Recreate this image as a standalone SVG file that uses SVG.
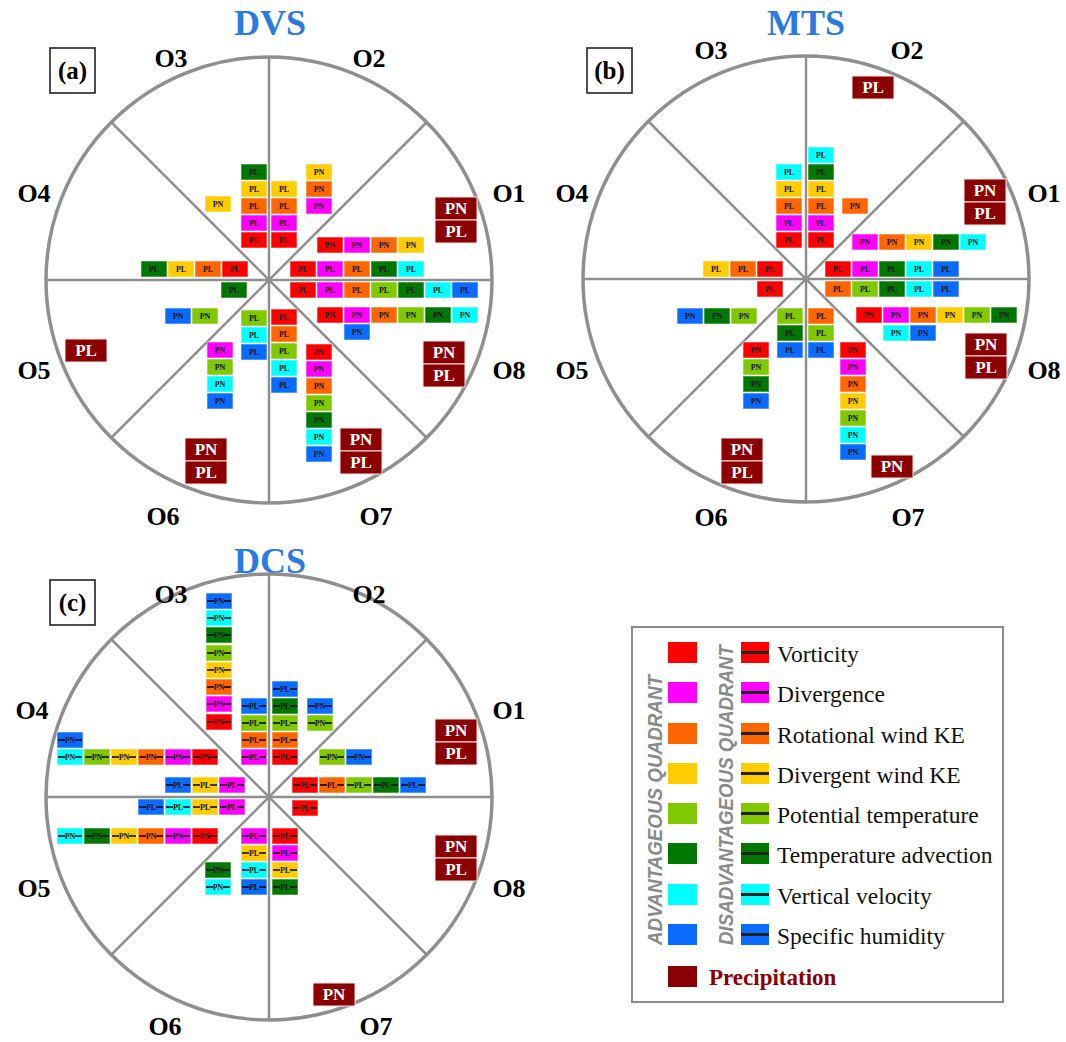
<svg xmlns="http://www.w3.org/2000/svg" width="1066" height="1042" viewBox="0 0 1066 1042">
<style>
.r{fill:#ff0000}.m{fill:#ff00ff}.o{fill:#ff6600}.y{fill:#ffcc00}.g{fill:#80c800}.d{fill:#007800}.c{fill:#00ffff}.b{fill:#0a6cff}.p{fill:#8b0000}
.cells rect{stroke:#ffffff;stroke-opacity:.55;stroke-width:1}
.cells text{font:bold 8px "Liberation Serif",serif;fill:#111;text-anchor:middle}
.prec rect{fill:#8b0000;stroke:#f4e6e6;stroke-width:1}
.prec text{font:bold 17px "Liberation Serif",serif;fill:#fff;text-anchor:middle}
.s{stroke:#000;stroke-width:1.6;fill:none}
.circ{fill:none;stroke:#8f8f8f;stroke-width:3.5}
.ln{stroke:#8f8f8f;stroke-width:2.5}
.lab{font:bold 26px "Liberation Serif",serif;fill:#000;text-anchor:middle}
.ttl{font:bold 36px "Liberation Serif",serif;fill:#2a7ae2;text-anchor:middle}
.tag{font:bold 25px "Liberation Serif",serif;fill:#000;text-anchor:middle}
.tagbox{fill:#fff;stroke:#222;stroke-width:1.6}
.leg{font:23.5px "Liberation Serif",serif;fill:#111}
.vt{font:italic bold 20px "Liberation Sans",sans-serif;fill:#8a8a8a}
</style>

<!-- ===================== PANEL A : DVS ===================== -->
<g id="panel-a-frame">
<text class="ttl" x="270" y="35">DVS</text>
<circle class="circ" cx="269" cy="280" r="223"/>
<line class="ln" x1="46" y1="280" x2="492" y2="280"/>
<line class="ln" x1="269" y1="57" x2="269" y2="503"/>
<line class="ln" x1="111" y1="122" x2="427" y2="438"/>
<line class="ln" x1="111" y1="438" x2="427" y2="122"/>
<rect class="tagbox" x="50" y="48" width="45" height="45"/>
<text class="tag" x="72.5" y="79">(a)</text>
<text class="lab" x="171" y="67">O3</text><text class="lab" x="369" y="67">O2</text>
<text class="lab" x="34" y="202">O4</text><text class="lab" x="509" y="202">O1</text>
<text class="lab" x="34" y="379">O5</text><text class="lab" x="509" y="379">O8</text>
<text class="lab" x="163" y="525">O6</text><text class="lab" x="376" y="525">O7</text>
</g>

<g id="a-O2O3" class="cells">
<rect class="d" x="241" y="164" width="26" height="16"/><text x="254" y="175">PL</text>
<rect class="y" x="241" y="181" width="26" height="16"/><text x="254" y="192">PL</text>
<rect class="o" x="241" y="198" width="26" height="16"/><text x="254" y="209">PL</text>
<rect class="m" x="241" y="215" width="26" height="16"/><text x="254" y="226">PL</text>
<rect class="r" x="241" y="232" width="26" height="16"/><text x="254" y="243">PL</text>
<rect class="y" x="271" y="181" width="26" height="16"/><text x="284" y="192">PL</text>
<rect class="o" x="271" y="198" width="26" height="16"/><text x="284" y="209">PL</text>
<rect class="m" x="271" y="215" width="26" height="16"/><text x="284" y="226">PL</text>
<rect class="r" x="271" y="232" width="26" height="16"/><text x="284" y="243">PL</text>
<rect class="y" x="306" y="164" width="26" height="16"/><text x="319" y="175">PN</text>
<rect class="o" x="306" y="181" width="26" height="16"/><text x="319" y="192">PN</text>
<rect class="m" x="306" y="198" width="26" height="16"/><text x="319" y="209">PN</text>
<rect class="y" x="205" y="196" width="26" height="16"/><text x="218" y="207">PN</text>
</g>
<g id="a-O4" class="cells">
<rect class="d" x="141" y="261" width="26" height="16"/><text x="154" y="272">PL</text>
<rect class="y" x="168" y="261" width="26" height="16"/><text x="181" y="272">PL</text>
<rect class="o" x="195" y="261" width="26" height="16"/><text x="208" y="272">PL</text>
<rect class="r" x="222" y="261" width="26" height="16"/><text x="235" y="272">PL</text>
</g>
<g id="a-O5" class="cells">
<rect class="d" x="221" y="282" width="26" height="16"/><text x="234" y="293">PL</text>
<rect class="b" x="165" y="308" width="26" height="16"/><text x="178" y="319">PN</text>
<rect class="g" x="192" y="308" width="26" height="16"/><text x="205" y="319">PN</text>
</g>
<g id="a-O1" class="cells">
<rect class="r" x="317" y="237" width="26" height="16"/><text x="330" y="248">PN</text>
<rect class="m" x="344" y="237" width="26" height="16"/><text x="357" y="248">PN</text>
<rect class="o" x="371" y="237" width="26" height="16"/><text x="384" y="248">PN</text>
<rect class="y" x="398" y="237" width="26" height="16"/><text x="411" y="248">PN</text>
<rect class="r" x="290" y="261" width="26" height="16"/><text x="303" y="272">PL</text>
<rect class="m" x="317" y="261" width="26" height="16"/><text x="330" y="272">PL</text>
<rect class="o" x="344" y="261" width="26" height="16"/><text x="357" y="272">PL</text>
<rect class="d" x="371" y="261" width="26" height="16"/><text x="384" y="272">PL</text>
<rect class="c" x="398" y="261" width="26" height="16"/><text x="411" y="272">PL</text>
</g>
<g id="a-O8" class="cells">
<rect class="r" x="290" y="282" width="26" height="16"/><text x="303" y="293">PL</text>
<rect class="m" x="317" y="282" width="26" height="16"/><text x="330" y="293">PL</text>
<rect class="o" x="344" y="282" width="26" height="16"/><text x="357" y="293">PL</text>
<rect class="g" x="371" y="282" width="26" height="16"/><text x="384" y="293">PL</text>
<rect class="d" x="398" y="282" width="26" height="16"/><text x="411" y="293">PL</text>
<rect class="c" x="425" y="282" width="26" height="16"/><text x="438" y="293">PL</text>
<rect class="b" x="452" y="282" width="26" height="16"/><text x="465" y="293">PL</text>
<rect class="r" x="317" y="307" width="26" height="16"/><text x="330" y="318">PN</text>
<rect class="m" x="344" y="307" width="26" height="16"/><text x="357" y="318">PN</text>
<rect class="o" x="371" y="307" width="26" height="16"/><text x="384" y="318">PN</text>
<rect class="g" x="398" y="307" width="26" height="16"/><text x="411" y="318">PN</text>
<rect class="d" x="425" y="307" width="26" height="16"/><text x="438" y="318">PN</text>
<rect class="c" x="452" y="307" width="26" height="16"/><text x="465" y="318">PN</text>
<rect class="b" x="344" y="324" width="26" height="16"/><text x="357" y="335">PN</text>
</g>
<g id="a-O6" class="cells">
<rect class="g" x="241" y="310" width="26" height="16"/><text x="254" y="321">PL</text>
<rect class="c" x="241" y="327" width="26" height="16"/><text x="254" y="338">PL</text>
<rect class="b" x="241" y="344" width="26" height="16"/><text x="254" y="355">PL</text>
<rect class="m" x="207" y="342" width="26" height="16"/><text x="220" y="353">PN</text>
<rect class="g" x="207" y="359" width="26" height="16"/><text x="220" y="370">PN</text>
<rect class="c" x="207" y="376" width="26" height="16"/><text x="220" y="387">PN</text>
<rect class="b" x="207" y="393" width="26" height="16"/><text x="220" y="404">PN</text>
</g>
<g id="a-O7" class="cells">
<rect class="r" x="271" y="309" width="26" height="16"/><text x="284" y="320">PL</text>
<rect class="o" x="271" y="326" width="26" height="16"/><text x="284" y="337">PL</text>
<rect class="g" x="271" y="343" width="26" height="16"/><text x="284" y="354">PL</text>
<rect class="c" x="271" y="360" width="26" height="16"/><text x="284" y="371">PL</text>
<rect class="b" x="271" y="377" width="26" height="16"/><text x="284" y="388">PL</text>
<rect class="r" x="306" y="344" width="26" height="16"/><text x="319" y="355">PN</text>
<rect class="m" x="306" y="361" width="26" height="16"/><text x="319" y="372">PN</text>
<rect class="o" x="306" y="378" width="26" height="16"/><text x="319" y="389">PN</text>
<rect class="g" x="306" y="395" width="26" height="16"/><text x="319" y="406">PN</text>
<rect class="d" x="306" y="412" width="26" height="16"/><text x="319" y="423">PN</text>
<rect class="c" x="306" y="429" width="26" height="16"/><text x="319" y="440">PN</text>
<rect class="b" x="306" y="446" width="26" height="16"/><text x="319" y="457">PN</text>
</g>
<g id="a-precip" class="prec">
<rect x="435" y="197" width="42" height="23"/><text x="456" y="214">PN</text>
<rect x="435" y="220" width="42" height="23"/><text x="456" y="237">PL</text>
<rect x="423" y="341" width="42" height="23"/><text x="444" y="358">PN</text>
<rect x="423" y="364" width="42" height="23"/><text x="444" y="381">PL</text>
<rect x="340" y="428" width="42" height="23"/><text x="361" y="445">PN</text>
<rect x="340" y="451" width="42" height="23"/><text x="361" y="468">PL</text>
<rect x="185" y="438" width="42" height="23"/><text x="206" y="455">PN</text>
<rect x="185" y="461" width="42" height="23"/><text x="206" y="478">PL</text>
<rect x="65" y="339" width="42" height="23"/><text x="86" y="356">PL</text>
</g>

<!-- ===================== PANEL B : MTS ===================== -->
<g id="panel-b-frame">
<text class="ttl" x="806" y="35">MTS</text>
<circle class="circ" cx="806" cy="279" r="223"/>
<line class="ln" x1="583" y1="279" x2="1029" y2="279"/>
<line class="ln" x1="806" y1="56" x2="806" y2="502"/>
<line class="ln" x1="648" y1="121" x2="964" y2="437"/>
<line class="ln" x1="648" y1="437" x2="964" y2="121"/>
<rect class="tagbox" x="587" y="48" width="45" height="45"/>
<text class="tag" x="609.5" y="79">(b)</text>
<text class="lab" x="711" y="59">O3</text><text class="lab" x="907" y="59">O2</text>
<text class="lab" x="572" y="202">O4</text><text class="lab" x="1044" y="202">O1</text>
<text class="lab" x="572" y="379">O5</text><text class="lab" x="1044" y="379">O8</text>
<text class="lab" x="711" y="526">O6</text><text class="lab" x="908" y="526">O7</text>
</g>

<g id="b-O2O3" class="cells">
<rect class="c" x="776" y="164" width="26" height="16"/><text x="789" y="175">PL</text>
<rect class="y" x="776" y="181" width="26" height="16"/><text x="789" y="192">PL</text>
<rect class="o" x="776" y="198" width="26" height="16"/><text x="789" y="209">PL</text>
<rect class="m" x="776" y="215" width="26" height="16"/><text x="789" y="226">PL</text>
<rect class="r" x="776" y="232" width="26" height="16"/><text x="789" y="243">PL</text>
<rect class="c" x="808" y="147" width="26" height="16"/><text x="821" y="158">PL</text>
<rect class="d" x="808" y="164" width="26" height="16"/><text x="821" y="175">PL</text>
<rect class="y" x="808" y="181" width="26" height="16"/><text x="821" y="192">PL</text>
<rect class="o" x="808" y="198" width="26" height="16"/><text x="821" y="209">PL</text>
<rect class="m" x="808" y="215" width="26" height="16"/><text x="821" y="226">PL</text>
<rect class="r" x="808" y="232" width="26" height="16"/><text x="821" y="243">PL</text>
<rect class="o" x="842" y="198" width="26" height="16"/><text x="855" y="209">PN</text>
</g>
<g id="b-O4" class="cells">
<rect class="y" x="703" y="261" width="26" height="16"/><text x="716" y="272">PL</text>
<rect class="o" x="730" y="261" width="26" height="16"/><text x="743" y="272">PL</text>
<rect class="r" x="757" y="261" width="26" height="16"/><text x="770" y="272">PL</text>
</g>
<g id="b-O5" class="cells">
<rect class="r" x="757" y="281" width="26" height="16"/><text x="770" y="292">PL</text>
<rect class="b" x="677" y="308" width="26" height="16"/><text x="690" y="319">PN</text>
<rect class="d" x="704" y="308" width="26" height="16"/><text x="717" y="319">PN</text>
<rect class="g" x="731" y="308" width="26" height="16"/><text x="744" y="319">PN</text>
</g>
<g id="b-O1" class="cells">
<rect class="m" x="852" y="234" width="26" height="16"/><text x="865" y="245">PN</text>
<rect class="o" x="879" y="234" width="26" height="16"/><text x="892" y="245">PN</text>
<rect class="y" x="906" y="234" width="26" height="16"/><text x="919" y="245">PN</text>
<rect class="d" x="933" y="234" width="26" height="16"/><text x="946" y="245">PN</text>
<rect class="c" x="960" y="234" width="26" height="16"/><text x="973" y="245">PN</text>
<rect class="r" x="825" y="261" width="26" height="16"/><text x="838" y="272">PL</text>
<rect class="m" x="852" y="261" width="26" height="16"/><text x="865" y="272">PL</text>
<rect class="d" x="879" y="261" width="26" height="16"/><text x="892" y="272">PL</text>
<rect class="c" x="906" y="261" width="26" height="16"/><text x="919" y="272">PL</text>
<rect class="b" x="933" y="261" width="26" height="16"/><text x="946" y="272">PL</text>
</g>
<g id="b-O8" class="cells">
<rect class="o" x="825" y="281" width="26" height="16"/><text x="838" y="292">PL</text>
<rect class="g" x="852" y="281" width="26" height="16"/><text x="865" y="292">PL</text>
<rect class="d" x="879" y="281" width="26" height="16"/><text x="892" y="292">PL</text>
<rect class="c" x="906" y="281" width="26" height="16"/><text x="919" y="292">PL</text>
<rect class="b" x="933" y="281" width="26" height="16"/><text x="946" y="292">PL</text>
<rect class="r" x="856" y="307" width="26" height="16"/><text x="869" y="318">PN</text>
<rect class="m" x="883" y="307" width="26" height="16"/><text x="896" y="318">PN</text>
<rect class="o" x="910" y="307" width="26" height="16"/><text x="923" y="318">PN</text>
<rect class="y" x="937" y="307" width="26" height="16"/><text x="950" y="318">PN</text>
<rect class="g" x="964" y="307" width="26" height="16"/><text x="977" y="318">PN</text>
<rect class="d" x="991" y="307" width="26" height="16"/><text x="1004" y="318">PN</text>
<rect class="c" x="883" y="325" width="26" height="16"/><text x="896" y="336">PN</text>
<rect class="b" x="910" y="325" width="26" height="16"/><text x="923" y="336">PN</text>
</g>
<g id="b-O6" class="cells">
<rect class="g" x="777" y="308" width="26" height="16"/><text x="790" y="319">PL</text>
<rect class="d" x="777" y="325" width="26" height="16"/><text x="790" y="336">PL</text>
<rect class="b" x="777" y="342" width="26" height="16"/><text x="790" y="353">PL</text>
<rect class="r" x="743" y="342" width="26" height="16"/><text x="756" y="353">PN</text>
<rect class="g" x="743" y="359" width="26" height="16"/><text x="756" y="370">PN</text>
<rect class="d" x="743" y="376" width="26" height="16"/><text x="756" y="387">PN</text>
<rect class="b" x="743" y="393" width="26" height="16"/><text x="756" y="404">PN</text>
</g>
<g id="b-O7" class="cells">
<rect class="o" x="808" y="308" width="26" height="16"/><text x="821" y="319">PL</text>
<rect class="g" x="808" y="325" width="26" height="16"/><text x="821" y="336">PL</text>
<rect class="b" x="808" y="342" width="26" height="16"/><text x="821" y="353">PL</text>
<rect class="r" x="840" y="342" width="26" height="16"/><text x="853" y="353">PN</text>
<rect class="m" x="840" y="359" width="26" height="16"/><text x="853" y="370">PN</text>
<rect class="o" x="840" y="376" width="26" height="16"/><text x="853" y="387">PN</text>
<rect class="y" x="840" y="393" width="26" height="16"/><text x="853" y="404">PN</text>
<rect class="g" x="840" y="410" width="26" height="16"/><text x="853" y="421">PN</text>
<rect class="c" x="840" y="427" width="26" height="16"/><text x="853" y="438">PN</text>
<rect class="b" x="840" y="444" width="26" height="16"/><text x="853" y="455">PN</text>
</g>
<g id="b-precip" class="prec">
<rect x="852" y="76" width="42" height="23"/><text x="873" y="93">PL</text>
<rect x="964" y="179" width="42" height="23"/><text x="985" y="196">PN</text>
<rect x="964" y="202" width="42" height="23"/><text x="985" y="219">PL</text>
<rect x="965" y="333" width="42" height="23"/><text x="986" y="350">PN</text>
<rect x="965" y="356" width="42" height="23"/><text x="986" y="373">PL</text>
<rect x="871" y="455" width="42" height="23"/><text x="892" y="472">PN</text>
<rect x="721" y="438" width="42" height="23"/><text x="742" y="455">PN</text>
<rect x="721" y="461" width="42" height="23"/><text x="742" y="478">PL</text>
</g>

<!-- ===================== PANEL C : DCS ===================== -->
<g id="panel-c-frame">
<text class="ttl" x="270" y="573">DCS</text>
<circle class="circ" cx="269" cy="797" r="223"/>
<line class="ln" x1="46" y1="797" x2="492" y2="797"/>
<line class="ln" x1="269" y1="574" x2="269" y2="1020"/>
<line class="ln" x1="111" y1="639" x2="427" y2="955"/>
<line class="ln" x1="111" y1="955" x2="427" y2="639"/>
<rect class="tagbox" x="50" y="580" width="45" height="45"/>
<text class="tag" x="72.5" y="611">(c)</text>
<text class="lab" x="171" y="603">O3</text><text class="lab" x="369" y="603">O2</text>
<text class="lab" x="32" y="719">O4</text><text class="lab" x="509" y="719">O1</text>
<text class="lab" x="34" y="897">O5</text><text class="lab" x="509" y="897">O8</text>
<text class="lab" x="165" y="1035">O6</text><text class="lab" x="376" y="1035">O7</text>
</g>

<g id="c-O3" class="cells">
<rect class="b" x="206" y="593" width="26" height="16"/><text x="219" y="604">PN</text>
<rect class="c" x="206" y="610" width="26" height="16"/><text x="219" y="621">PN</text>
<rect class="d" x="206" y="627" width="26" height="16"/><text x="219" y="638">PN</text>
<rect class="g" x="206" y="645" width="26" height="16"/><text x="219" y="656">PN</text>
<rect class="y" x="206" y="662" width="26" height="16"/><text x="219" y="673">PN</text>
<rect class="o" x="206" y="679" width="26" height="16"/><text x="219" y="690">PN</text>
<rect class="m" x="206" y="696" width="26" height="16"/><text x="219" y="707">PN</text>
<rect class="r" x="206" y="714" width="26" height="16"/><text x="219" y="725">PN</text>
<rect class="b" x="241" y="698" width="26" height="16"/><text x="254" y="709">PL</text>
<rect class="g" x="241" y="715" width="26" height="16"/><text x="254" y="726">PL</text>
<rect class="o" x="241" y="732" width="26" height="16"/><text x="254" y="743">PL</text>
<rect class="m" x="241" y="749" width="26" height="16"/><text x="254" y="760">PL</text>
<path class="s" d="M207 601h7M224 601h7M207 618h7M224 618h7M207 635h7M224 635h7M207 653h7M224 653h7M207 670h7M224 670h7M207 687h7M224 687h7M207 704h7M224 704h7M207 722h7M224 722h7M242 706h7M259 706h7M242 723h7M259 723h7M242 740h7M259 740h7M242 757h7M259 757h7"/>
</g>
<g id="c-O2" class="cells">
<rect class="b" x="272" y="681" width="26" height="16"/><text x="285" y="692">PL</text>
<rect class="d" x="272" y="698" width="26" height="16"/><text x="285" y="709">PL</text>
<rect class="g" x="272" y="715" width="26" height="16"/><text x="285" y="726">PL</text>
<rect class="o" x="272" y="732" width="26" height="16"/><text x="285" y="743">PL</text>
<rect class="r" x="272" y="749" width="26" height="16"/><text x="285" y="760">PL</text>
<rect class="b" x="307" y="698" width="26" height="16"/><text x="320" y="709">PN</text>
<rect class="g" x="307" y="715" width="26" height="16"/><text x="320" y="726">PN</text>
<path class="s" d="M273 689h7M290 689h7M273 706h7M290 706h7M273 723h7M290 723h7M273 740h7M290 740h7M273 757h7M290 757h7M308 706h7M325 706h7M308 723h7M325 723h7"/>
</g>
<g id="c-O1" class="cells">
<rect class="g" x="319" y="749" width="26" height="16"/><text x="332" y="760">PN</text>
<rect class="b" x="346" y="749" width="26" height="16"/><text x="359" y="760">PN</text>
<rect class="r" x="292" y="777" width="26" height="16"/><text x="305" y="788">PL</text>
<rect class="o" x="319" y="777" width="26" height="16"/><text x="332" y="788">PL</text>
<rect class="g" x="346" y="777" width="26" height="16"/><text x="359" y="788">PL</text>
<rect class="d" x="373" y="777" width="26" height="16"/><text x="386" y="788">PL</text>
<rect class="b" x="400" y="777" width="26" height="16"/><text x="413" y="788">PL</text>
<path class="s" d="M320 757h7M337 757h7M347 757h7M364 757h7M293 785h7M310 785h7M320 785h7M337 785h7M347 785h7M364 785h7M374 785h7M391 785h7M401 785h7M418 785h7"/>
</g>
<g id="c-O8" class="cells">
<rect class="r" x="292" y="800" width="26" height="16"/><text x="305" y="811">PL</text>
<path class="s" d="M293 808h7M310 808h7"/>
</g>
<g id="c-O4" class="cells">
<rect class="b" x="57" y="732" width="26" height="16"/><text x="70" y="743">PN</text>
<rect class="c" x="57" y="749" width="26" height="16"/><text x="70" y="760">PN</text>
<rect class="g" x="84" y="749" width="26" height="16"/><text x="97" y="760">PN</text>
<rect class="y" x="111" y="749" width="26" height="16"/><text x="124" y="760">PN</text>
<rect class="o" x="138" y="749" width="26" height="16"/><text x="151" y="760">PN</text>
<rect class="m" x="165" y="749" width="26" height="16"/><text x="178" y="760">PN</text>
<rect class="r" x="192" y="749" width="26" height="16"/><text x="205" y="760">PN</text>
<rect class="b" x="165" y="777" width="26" height="16"/><text x="178" y="788">PL</text>
<rect class="y" x="192" y="777" width="26" height="16"/><text x="205" y="788">PL</text>
<rect class="m" x="219" y="777" width="26" height="16"/><text x="232" y="788">PL</text>
<path class="s" d="M58 740h7M75 740h7M58 757h7M75 757h7M85 757h7M102 757h7M112 757h7M129 757h7M139 757h7M156 757h7M166 757h7M183 757h7M193 757h7M210 757h7M166 785h7M183 785h7M193 785h7M210 785h7M220 785h7M237 785h7"/>
</g>
<g id="c-O5" class="cells">
<rect class="b" x="138" y="799" width="26" height="16"/><text x="151" y="810">PL</text>
<rect class="c" x="165" y="799" width="26" height="16"/><text x="178" y="810">PL</text>
<rect class="y" x="192" y="799" width="26" height="16"/><text x="205" y="810">PL</text>
<rect class="m" x="219" y="799" width="26" height="16"/><text x="232" y="810">PL</text>
<rect class="c" x="57" y="828" width="26" height="16"/><text x="70" y="839">PN</text>
<rect class="d" x="84" y="828" width="26" height="16"/><text x="97" y="839">PN</text>
<rect class="y" x="111" y="828" width="26" height="16"/><text x="124" y="839">PN</text>
<rect class="o" x="138" y="828" width="26" height="16"/><text x="151" y="839">PN</text>
<rect class="m" x="165" y="828" width="26" height="16"/><text x="178" y="839">PN</text>
<rect class="r" x="192" y="828" width="26" height="16"/><text x="205" y="839">PN</text>
<path class="s" d="M139 807h7M156 807h7M166 807h7M183 807h7M193 807h7M210 807h7M220 807h7M237 807h7M58 836h7M75 836h7M85 836h7M102 836h7M112 836h7M129 836h7M139 836h7M156 836h7M166 836h7M183 836h7M193 836h7M210 836h7"/>
</g>
<g id="c-O6" class="cells">
<rect class="m" x="241" y="828" width="26" height="16"/><text x="254" y="839">PL</text>
<rect class="y" x="241" y="845" width="26" height="16"/><text x="254" y="856">PL</text>
<rect class="c" x="241" y="862" width="26" height="16"/><text x="254" y="873">PL</text>
<rect class="b" x="241" y="879" width="26" height="16"/><text x="254" y="890">PL</text>
<rect class="d" x="205" y="862" width="26" height="16"/><text x="218" y="873">PN</text>
<rect class="c" x="205" y="879" width="26" height="16"/><text x="218" y="890">PN</text>
<path class="s" d="M242 836h7M259 836h7M242 853h7M259 853h7M242 870h7M259 870h7M242 887h7M259 887h7M206 870h7M223 870h7M206 887h7M223 887h7"/>
</g>
<g id="c-O7" class="cells">
<rect class="r" x="272" y="828" width="26" height="16"/><text x="285" y="839">PL</text>
<rect class="m" x="272" y="845" width="26" height="16"/><text x="285" y="856">PL</text>
<rect class="y" x="272" y="862" width="26" height="16"/><text x="285" y="873">PL</text>
<rect class="d" x="272" y="879" width="26" height="16"/><text x="285" y="890">PL</text>
<path class="s" d="M273 836h7M290 836h7M273 853h7M290 853h7M273 870h7M290 870h7M273 887h7M290 887h7"/>
</g>
<g id="c-precip" class="prec">
<rect x="435" y="719" width="42" height="23"/><text x="456" y="736">PN</text>
<rect x="435" y="742" width="42" height="23"/><text x="456" y="759">PL</text>
<rect x="435" y="835" width="42" height="23"/><text x="456" y="852">PN</text>
<rect x="435" y="858" width="42" height="23"/><text x="456" y="875">PL</text>
<rect x="313" y="983" width="42" height="23"/><text x="334" y="1000">PN</text>
</g>

<!-- ===================== LEGEND ===================== -->
<g id="legend">
<rect x="632" y="627" width="371" height="375" fill="#fff" stroke="#8a8a8a" stroke-width="2"/>
<text class="vt" transform="translate(662,945) rotate(-90)" textLength="270" lengthAdjust="spacingAndGlyphs">ADVANTAGEOUS QUADRANT</text>
<text class="vt" transform="translate(733,945) rotate(-90)" textLength="300" lengthAdjust="spacingAndGlyphs">DISADVANTAGEOUS QUADRANT</text>
<rect class="r" x="668" y="642" width="29" height="21"/><rect class="r" x="741" y="642" width="28" height="21"/>
<rect class="m" x="668" y="682" width="29" height="21"/><rect class="m" x="741" y="682" width="28" height="21"/>
<rect class="o" x="668" y="723" width="29" height="21"/><rect class="o" x="741" y="723" width="28" height="21"/>
<rect class="y" x="668" y="763" width="29" height="21"/><rect class="y" x="741" y="763" width="28" height="21"/>
<rect class="g" x="668" y="803" width="29" height="21"/><rect class="g" x="741" y="803" width="28" height="21"/>
<rect class="d" x="668" y="843" width="29" height="21"/><rect class="d" x="741" y="843" width="28" height="21"/>
<rect class="c" x="668" y="884" width="29" height="21"/><rect class="c" x="741" y="884" width="28" height="21"/>
<rect class="b" x="668" y="924" width="29" height="21"/><rect class="b" x="741" y="924" width="28" height="21"/>
<path d="M741 652.5h28M741 692.5h28M741 733.5h28M741 773.5h28M741 813.5h28M741 853.5h28M741 894.5h28M741 934.5h28" stroke="#222" stroke-width="3" fill="none"/>
<text class="leg" x="777" y="662">Vorticity</text>
<text class="leg" x="777" y="702">Divergence</text>
<text class="leg" x="777" y="743">Rotational wind KE</text>
<text class="leg" x="777" y="783">Divergent wind KE</text>
<text class="leg" x="777" y="823">Potential temperature</text>
<text class="leg" x="777" y="863">Temperature advection</text>
<text class="leg" x="777" y="904">Vertical velocity</text>
<text class="leg" x="777" y="944">Specific humidity</text>
<rect class="p" x="668" y="966" width="29" height="21"/>
<text x="709" y="985" style="font:bold 23px 'Liberation Serif',serif;fill:#8b0000">Precipitation</text>
</g>
</svg>
